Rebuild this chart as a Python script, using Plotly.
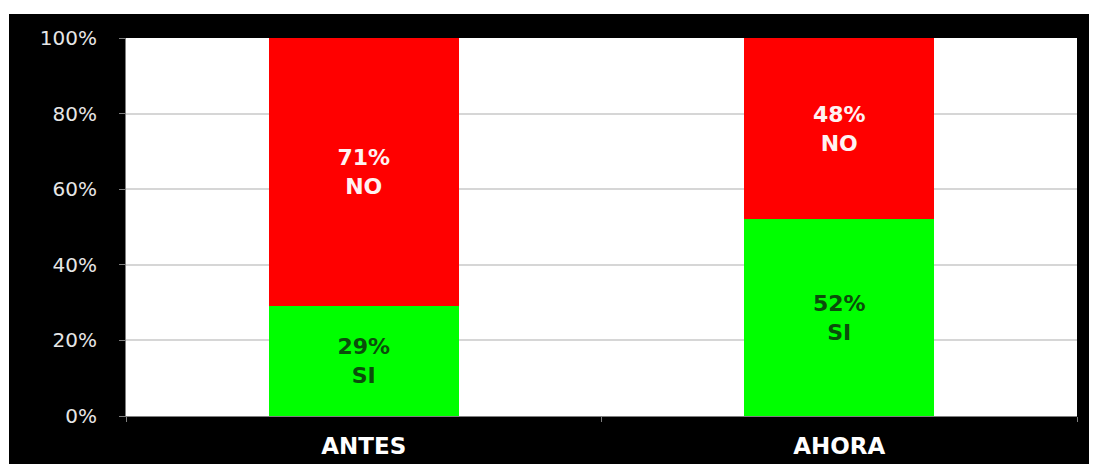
import plotly.graph_objects as go

categories = ["ANTES", "AHORA"]
si_values = [29, 52]
no_values = [71, 48]
y_ticks = [0, 20, 40, 60, 80, 100]
y_tick_labels = ["0%", "20%", "40%", "60%", "80%", "100%"]

# page body has an 8px margin, so the figure is drawn 8px smaller and offset
W, H = 1089, 456
L, R, T, B = 118, 20, 30, 48
pw, ph = W - L - R, H - T - B

def px_x(p):
    return (p - L) / pw

def px_y(p):
    return (H - B - p) / ph

fig = go.Figure()
fig.add_trace(go.Bar(
    x=categories, y=si_values, name="SI",
    marker=dict(color="#00ff00", line=dict(width=0)),
    texttemplate="%{y}%<br>SI", textposition="inside", insidetextanchor="middle",
    textangle=0,
    textfont=dict(family="DejaVu Sans", size=22, color="#0b4d0b", weight="bold"),
))
fig.add_trace(go.Bar(
    x=categories, y=no_values, name="NO",
    marker=dict(color="#ff0000", line=dict(width=0)),
    texttemplate="%{y}%<br>NO", textposition="inside", insidetextanchor="middle",
    textangle=0,
    textfont=dict(family="DejaVu Sans", size=22, color="#fff2f2", weight="bold"),
))

fig.update_layout(
    width=W, height=H,
    barmode="stack", bargap=0.6,
    showlegend=False,
    paper_bgcolor="#000000",
    plot_bgcolor="#ffffff",
    margin=dict(l=L, r=R, t=T, b=B, pad=0, autoexpand=False),
    uniformtext=dict(mode=False),
    shapes=[
        dict(type="rect", xref="paper", yref="paper", layer="below",
             x0=px_x(-5), x1=px_x(W + 5), y0=px_y(6), y1=px_y(-5),
             fillcolor="#ffffff", line=dict(width=0)),
        dict(type="rect", xref="paper", yref="paper", layer="below",
             x0=px_x(-5), x1=px_x(1), y0=px_y(H + 5), y1=px_y(-5),
             fillcolor="#ffffff", line=dict(width=0)),
    ],
)
fig.update_xaxes(
    type="category", automargin=False,
    showline=True, linecolor="#7f7f7f", linewidth=1,
    ticks="outside", tickson="boundaries", ticklen=5, tickcolor="#7f7f7f",
    tickfont=dict(family="DejaVu Sans", size=23, color="#ffffff", weight="bold"),
    ticklabelstandoff=9,
    showgrid=False,
)
fig.update_yaxes(
    range=[0, 100], automargin=False,
    tickvals=y_ticks, ticktext=y_tick_labels,
    showgrid=True, gridcolor="#d6d6d6", gridwidth=1.5,
    showline=True, linecolor="#7f7f7f", linewidth=1,
    ticks="outside", ticklen=6, tickcolor="#7f7f7f",
    tickfont=dict(family="DejaVu Sans", size=20, color="#e6e6e6"),
    ticklabelstandoff=18,
    zeroline=False,
)

fig.write_html("out.html")
